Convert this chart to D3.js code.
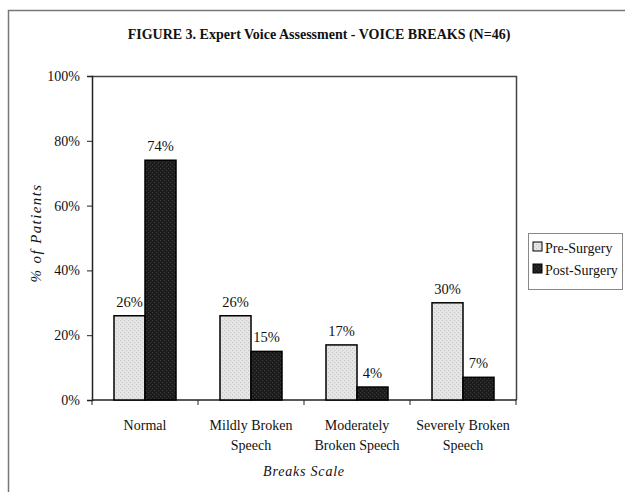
<!DOCTYPE html>
<html>
<head>
<meta charset="utf-8">
<script src="https://cdn.jsdelivr.net/npm/d3@7"></script>
<style>
  html, body { margin: 0; padding: 0; background: #fff; }
  svg { display: block; }
  text { font-family: "Liberation Serif", "DejaVu Serif", serif; fill: #111; }
</style>
</head>
<body>
<svg id="chart" width="625" height="492"></svg>
<script>
// Voice breaks ratings before and after surgery (percent of 46 patients)
const categories = [
  ["Normal"],
  ["Mildly Broken", "Speech"],
  ["Moderately", "Broken Speech"],
  ["Severely Broken", "Speech"]
];
const seriesNames = ["Pre-Surgery", "Post-Surgery"];
const preSurgery = [26, 26, 17, 30];
const postSurgery = [74, 15, 4, 7];
const yTicks = [0, 20, 40, 60, 80, 100];

const svg = d3.select("#chart");
const W = 625, H = 492;
const plot = { left: 92, top: 76, right: 516, bottom: 400 };

// dotted fills for the two series
const defs = svg.append("defs");
function dotPattern(id, bg, dot) {
  const p = defs.append("pattern").attr("id", id)
    .attr("width", 4).attr("height", 4).attr("patternUnits", "userSpaceOnUse");
  p.append("rect").attr("width", 4).attr("height", 4).attr("fill", bg);
  p.append("rect").attr("x", 0).attr("y", 0).attr("width", 1.2).attr("height", 1.2).attr("fill", dot);
  p.append("rect").attr("x", 2).attr("y", 2).attr("width", 1.2).attr("height", 1.2).attr("fill", dot);
}
dotPattern("fillPre", "#e6e6e6", "#c8c8c8");
dotPattern("fillPost", "#1b1b1b", "#3a3a3a");
const fills = ["url(#fillPre)", "url(#fillPost)"];

// outer frame
svg.append("rect").attr("x", 8.5).attr("y", 10.5).attr("width", W + 10).attr("height", H + 10)
  .attr("fill", "none").attr("stroke", "#777").attr("stroke-width", 1.5);

// title
svg.append("text").attr("x", 319).attr("y", 39).attr("text-anchor", "middle")
  .attr("font-size", 14).attr("font-weight", "bold")
  .text("FIGURE 3. Expert Voice Assessment - VOICE BREAKS (N=46)");

const x0 = d3.scaleBand().domain(d3.range(categories.length))
  .range([plot.left, plot.right]).paddingInner(0).paddingOuter(0);
const groupPad = 22;
const x1 = d3.scaleBand().domain([0, 1])
  .range([groupPad, x0.bandwidth() - groupPad]).padding(0);
const y = d3.scaleLinear().domain([0, 100]).range([plot.bottom, plot.top]);

// plot border (top and right)
svg.append("path")
  .attr("d", `M${plot.left},${plot.top + 0.5}H${plot.right + 0.5}V${plot.bottom}`)
  .attr("fill", "none").attr("stroke", "#444").attr("stroke-width", 1.5);

// y axis
const yAxis = d3.axisLeft(y).tickValues(yTicks).tickSize(5).tickPadding(7)
  .tickFormat(d => d + "%");
const gy = svg.append("g").attr("transform", `translate(${plot.left},0)`).call(yAxis);
gy.select(".domain").attr("stroke", "#222").attr("stroke-width", 1.5);
gy.selectAll(".tick line").attr("stroke", "#222");
gy.selectAll(".tick text").attr("font-size", 14).attr("font-family", "Liberation Serif").attr("fill", "#111");

// x axis with ticks on the category boundaries
const boundaries = d3.range(categories.length + 1).map(i => plot.left + i * x0.bandwidth());
const gx = svg.append("g");
gx.append("line").attr("x1", plot.left).attr("x2", plot.right + 0.5)
  .attr("y1", plot.bottom).attr("y2", plot.bottom).attr("stroke", "#222").attr("stroke-width", 1.5);
gx.selectAll("line.tk").data(boundaries).join("line").attr("class", "tk")
  .attr("x1", d => d).attr("x2", d => d)
  .attr("y1", plot.bottom).attr("y2", plot.bottom + 5).attr("stroke", "#222");

// bars
const data = categories.map((c, i) => ({ i, values: [preSurgery[i], postSurgery[i]] }));
const groups = svg.append("g").selectAll("g").data(data).join("g")
  .attr("transform", d => `translate(${x0(d.i)},0)`);
groups.selectAll("rect").data(d => d.values.map((v, s) => ({ v, s }))).join("rect")
  .attr("x", d => x1(d.s)).attr("y", d => y(d.v))
  .attr("width", x1.bandwidth()).attr("height", d => y(0) - y(d.v))
  .attr("fill", d => fills[d.s]).attr("stroke", "#000").attr("stroke-width", 1.5);
groups.selectAll("text.val").data(d => d.values.map((v, s) => ({ v, s }))).join("text")
  .attr("class", "val").attr("text-anchor", "middle").attr("font-size", 14.5)
  .attr("x", d => x1(d.s) + x1.bandwidth() / 2).attr("y", d => y(d.v) - 9)
  .text(d => d.v + "%");

// category labels
svg.append("g").selectAll("text").data(categories.map((c, i) => ({ c, i }))).join("text")
  .attr("text-anchor", "middle").attr("font-size", 14)
  .attr("x", d => x0(d.i) + x0.bandwidth() / 2).attr("y", 430)
  .each(function (d) {
    d3.select(this).selectAll("tspan").data(d.c).join("tspan")
      .attr("x", x0(d.i) + x0.bandwidth() / 2).attr("dy", (t, k) => k === 0 ? 0 : 20).text(t => t);
  });

// axis titles
svg.append("text").attr("x", 304).attr("y", 476).attr("text-anchor", "middle")
  .attr("font-size", 14).attr("font-style", "italic").attr("letter-spacing", 0.8).text("Breaks Scale");
svg.append("text").attr("transform", "translate(41,233) rotate(-90)").attr("text-anchor", "middle")
  .attr("font-size", 15).attr("font-style", "italic").attr("letter-spacing", 1.4).text("% of Patients");

// legend
const lg = svg.append("g");
lg.append("rect").attr("x", 528.5).attr("y", 233.5).attr("width", 94).attr("height", 56)
  .attr("fill", "#fff").attr("stroke", "#888").attr("stroke-width", 1);
seriesNames.forEach((name, s) => {
  const yy = 248 + s * 22;
  lg.append("rect").attr("x", 533).attr("y", yy - 6).attr("width", 9).attr("height", 9)
    .attr("fill", fills[s]).attr("stroke", "#000").attr("stroke-width", 1);
  lg.append("text").attr("x", 545).attr("y", yy + 4.5).attr("font-size", 14).text(name);
});
</script>
</body>
</html>
